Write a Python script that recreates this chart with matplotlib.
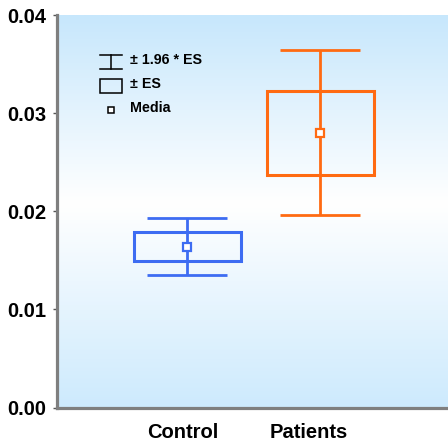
import numpy as np
import matplotlib.pyplot as plt
from matplotlib.colors import LinearSegmentedColormap
from matplotlib.patches import Rectangle

groups = ['Control', 'Patients']
means = [0.0164, 0.0280]
std_err = [0.00148, 0.00428]
colors = ['#3d6cf2', '#ff6a12']
yticks = [0.00, 0.01, 0.02, 0.03, 0.04]

plt.rcParams['font.family'] = ['Liberation Sans', 'DejaVu Sans']
plt.rcParams['font.weight'] = 'bold'

fig = plt.figure(figsize=(4.48, 4.43), dpi=100)
ax = fig.add_axes([0.1283, 0.0801, 0.8717, 0.886])

# vertical background gradient: blue - white - blue
bg = LinearSegmentedColormap.from_list(
    'bg', [(0.0, '#cdeafd'), (0.52, '#ffffff'), (1.0, '#c7e7fc')])
grad = np.linspace(0, 1, 256).reshape(-1, 1)
ax.imshow(grad, cmap=bg, aspect='auto', extent=[0, 1, 0, 1],
          transform=ax.transAxes, origin='lower', zorder=0)

x = np.arange(1, len(groups) + 1)
box_w = 0.8
for xi, m, se, c in zip(x, means, std_err, colors):
    ax.add_patch(Rectangle((xi - box_w / 2, m - se), box_w, 2 * se,
                           fill=False, edgecolor=c, lw=2.2, zorder=3))
    ax.errorbar(xi, m, yerr=1.96 * se, fmt='none', ecolor=c,
                elinewidth=2.0, capsize=29, capthick=2.0, zorder=2)
    ax.plot(xi, m, marker='s', ms=6, mfc='white', mec=c, mew=1.6,
            zorder=4)

ax.set_xlim(0.023, 2.96)
ax.set_ylim(0, 0.04)
ax.set_yticks(yticks)
ax.set_yticklabels(['%.2f' % v for v in yticks], fontsize=14.5,
                   fontweight='bold')
ax.set_xticks([0.966, 1.91])
ax.set_xticklabels(groups, fontsize=14.5, fontweight='bold')
ax.tick_params(axis='x', length=0, pad=11)
ax.tick_params(axis='y', length=3, width=1, color='#555555', pad=5)

for s in ['top', 'right']:
    ax.spines[s].set_visible(False)
for s in ['left', 'bottom']:
    ax.spines[s].set_color('#7f7f7f')
    ax.spines[s].set_linewidth(2.3)

# legend symbols
tr = ax.transAxes
lc = 'black'
ax.plot([0.137, 0.137], [0.862, 0.898], color=lc, lw=1.1, transform=tr)
ax.plot([0.109, 0.166], [0.898, 0.898], color=lc, lw=1.1, transform=tr)
ax.plot([0.109, 0.166], [0.862, 0.862], color=lc, lw=1.1, transform=tr)
ax.add_patch(Rectangle((0.109, 0.801), 0.055, 0.036, fill=False,
                       edgecolor=lc, lw=1.1, transform=tr))
ax.plot(0.138, 0.759, marker='s', ms=5, mfc='white', mec=lc, mew=1.1,
        transform=tr)
for yy, txt in zip([0.885, 0.824, 0.763], ['± 1.96 * ES', '± ES', 'Media']):
    ax.text(0.186, yy, txt, transform=tr, fontsize=10.3, fontweight='bold',
            va='center', ha='left')

fig.savefig('out.png', dpi=100)
